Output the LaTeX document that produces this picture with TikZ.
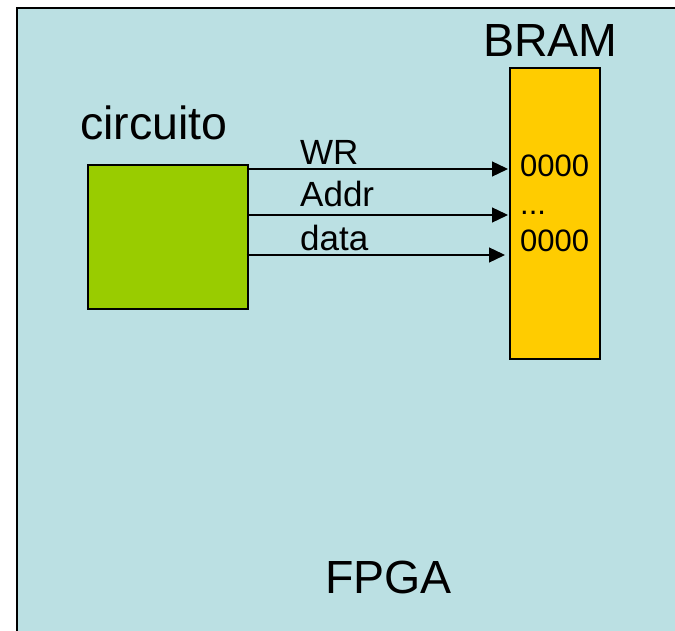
\documentclass[tikz,border=0pt]{standalone}
\usepackage{fontspec}
\setmainfont{Liberation Sans}
\usetikzlibrary{arrows.meta}
\definecolor{fpgabg}{RGB}{187,224,227}
\definecolor{circgreen}{RGB}{153,204,0}
\definecolor{bramyellow}{RGB}{255,204,0}
\begin{document}
\begin{tikzpicture}[x=1pt, y=-1pt,
txt/.style={inner sep=0pt, anchor=base west},
block/.style={draw=black, line width=1.6pt, inner sep=0pt, anchor=north west},
sig/.style={line width=1.3pt, -{Triangle[length=16pt, width=15pt]}},
big/.style={font=\fontsize{46.5}{50}\selectfont},
mid/.style={font=\fontsize{35}{40}\selectfont},
small/.style={font=\fontsize{31}{36}\selectfont}]
\useasboundingbox (0,0) rectangle (675,631);
% white margin, then the chip running off the right and bottom edges
\fill[white] (-10,-10) rectangle (690,650);
\fill[fpgabg] (17,8) rectangle (690,650);
\draw[line width=2pt] (17,650) -- (17,8) -- (690,8);
\node[txt, big] (fpga) at (325,593) {FPGA};
% user logic
\node[block, fill=circgreen, minimum width=160pt, minimum height=144pt] (circ) at (87,164) {};
\node[txt, big] (circlbl) at (80,140) {circuito};
% block ram
\node[block, fill=bramyellow, minimum width=90pt, minimum height=291pt] (bram) at (509,67) {};
\node[txt, big] (bramlbl) at (483,57) {BRAM};
\node[txt, small] (w0) at (520,177) {0000};
\node[txt, small] (wdots) at (520,215) {...};
\node[txt, small] (w1) at (520,252) {0000};
% signals
\coordinate (wrend) at (508,169);
\coordinate (addrend) at (508,215);
\coordinate (dataend) at (505,255);
\draw[sig] ([xshift=-2pt]circ.east |- wrend) -- (wrend);
\draw[sig] (circ.east |- addrend) -- (addrend);
\draw[sig] ([xshift=-2pt]circ.east |- dataend) -- (dataend);
\node[txt, mid] (wr) at (300,165) {WR};
\node[txt, mid] (addr) at (300,207) {Addr};
\node[txt, mid] (data) at (300,251) {data};
\end{tikzpicture}
\end{document}
